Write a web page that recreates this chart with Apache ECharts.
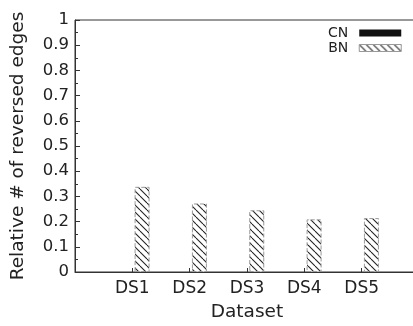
<!DOCTYPE html>
<html><head><meta charset="utf-8">
<script src="https://cdn.jsdelivr.net/npm/echarts@6/dist/echarts.min.js"></script>
<style>html,body{margin:0;padding:0;background:#fff;overflow:hidden}#c{width:413px;height:326px}</style>
</head><body><div id="c"></div>
<script>
const categories = ['', 'DS1', 'DS2', 'DS3', 'DS4', 'DS5', ''];
const cnValues = [null, 0, 0, 0, 0, 0, null];
const bnValues = [null, 0.338, 0.272, 0.245, 0.209, 0.214, null];
const yTickLabels = ['0', '0.1', '0.2', '0.3', '0.4', '0.5', '0.6', '0.7', '0.8', '0.9', '1'];

function hatch() {
  const s = 7;
  const c = document.createElement('canvas');
  c.width = s; c.height = s;
  const g = c.getContext('2d');
  g.fillStyle = '#fff'; g.fillRect(0, 0, s, s);
  g.strokeStyle = '#222'; g.lineWidth = 1.1;
  for (const o of [-s, 0, s]) {
    g.beginPath(); g.moveTo(o, 0); g.lineTo(o + s, s); g.stroke();
  }
  return c;
}
const pat = { image: hatch(), repeat: 'repeat' };
const font = 'DejaVu Sans';
const chart = echarts.init(document.getElementById('c'), null, { renderer: 'canvas' });
chart.setOption({
  animation: false,
  backgroundColor: '#fff',
  grid: { left: 75, top: 20, width: 344, height: 252, show: true, borderColor: '#333', borderWidth: 1,
          containLabel: false, outerBoundsMode: 'none' },
  legend: {
    orient: 'vertical', left: 323, top: 21, align: 'right',
    itemWidth: 42, itemHeight: 7, itemGap: 1, icon: 'rect',
    itemStyle: { borderWidth: 1 },
    textStyle: { fontFamily: font, fontSize: 14, color: '#222', lineHeight: 14, padding: [0, 6, 0, 0] },
    data: ['CN', 'BN']
  },
  xAxis: {
    type: 'category', data: categories, boundaryGap: false,
    name: 'Dataset', nameLocation: 'middle', nameGap: 31,
    nameTextStyle: { fontFamily: font, fontSize: 18.5, color: '#222' },
    axisLine: { lineStyle: { color: '#333', width: 1 } },
    axisTick: { inside: true, length: 4, lineStyle: { color: '#333' } },
    axisLabel: { fontFamily: font, fontSize: 17, color: '#222', margin: 8, interval: 0 }
  },
  yAxis: {
    type: 'value', min: 0, max: 1, interval: 0.1,
    name: 'Relative # of reversed edges', nameLocation: 'middle', nameGap: 47,
    nameTextStyle: { fontFamily: font, fontSize: 18.5, color: '#222' },
    axisLine: { show: true, lineStyle: { color: '#333', width: 1 } },
    axisTick: { show: true, inside: true, length: 5, lineStyle: { color: '#333' } },
    minorTick: { show: true, splitNumber: 2, length: 3, lineStyle: { color: '#333' } },
    splitLine: { show: false },
    axisLabel: {
      fontFamily: font, fontSize: 16.5, color: '#222', margin: 6,
      formatter: v => yTickLabels[Math.round(v * 10)]
    }
  },
  series: [
    { name: 'CN', type: 'bar', data: cnValues, barWidth: 15, barGap: '30%',
      itemStyle: { color: '#111' } },
    { name: 'BN', type: 'bar', data: bnValues, barWidth: 15,
      itemStyle: { color: pat, borderColor: '#999', borderWidth: 1, borderType: 'dashed' } }
  ]
});
</script></body></html>
